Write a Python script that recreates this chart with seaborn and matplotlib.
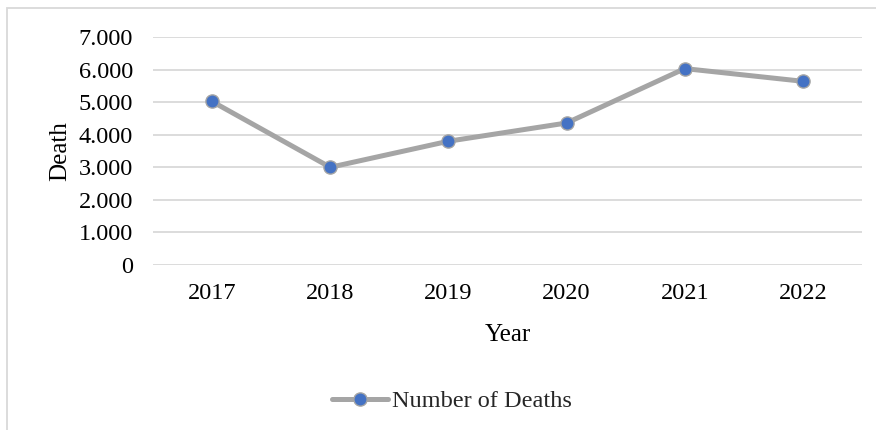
import matplotlib
matplotlib.use("Agg")
import matplotlib.pyplot as plt
from matplotlib.patches import Rectangle
from matplotlib.ticker import FuncFormatter
import seaborn as sns
import pandas as pd

years = ["2017", "2018", "2019", "2020", "2021", "2022"]
deaths = [5020, 3000, 3800, 4360, 6030, 5640]
y_ticks = [0, 1000, 2000, 3000, 4000, 5000, 6000, 7000]

df = pd.DataFrame({"Year": years, "Number of Deaths": deaths})

sns.set_theme(style="white")
plt.rcParams["font.family"] = ["Liberation Serif", "DejaVu Serif"]
FS = 17.5

W, H = 876, 430
fig = plt.figure(figsize=(W / 100, H / 100), dpi=100)
fig.patch.set_facecolor("white")

# light chart frame (left and top edges visible)
frame_top = 1 - 8 / H
fig.patches.append(Rectangle((7 / W, -0.5), 2.0, 0.5 + frame_top,
                             transform=fig.transFigure, fill=False,
                             edgecolor="#D9D9D9", linewidth=1.3, zorder=0))

left, right = 153 / W, 862 / W
bottom, top = 1 - 265 / H, 1 - 37 / H
ax = fig.add_axes([left, bottom, right - left, top - bottom])
ax.set_facecolor("none")

sns.lineplot(data=df, x="Year", y="Number of Deaths", ax=ax,
             color="#A5A5A5", linewidth=3.6, marker="o", markersize=9.5,
             markerfacecolor="#4472C4", markeredgecolor="#A5A5A5",
             markeredgewidth=1.0, label="Number of Deaths", legend=False,
             zorder=3)

ax.set_xlim(-0.5, len(years) - 0.5)
ax.set_ylim(0, 7000)
ax.set_yticks(y_ticks)
ax.yaxis.set_major_formatter(FuncFormatter(lambda v, p: f"{int(v):,}".replace(",", ".")))
ax.grid(axis="y", color="#D9D9D9", linewidth=1.3)
ax.grid(axis="x", visible=False)
for s in ax.spines.values():
    s.set_visible(False)
ax.tick_params(axis="both", length=0, labelsize=FS, colors="black")
ax.tick_params(axis="y", pad=14.5)
ax.tick_params(axis="x", pad=13)

ax.set_ylabel("Death", fontsize=FS + 0.5, color="black")
ax.set_xlabel("Year", fontsize=FS + 0.5, color="black")
ax.yaxis.set_label_coords(-0.131, 0.5)
ax.xaxis.set_label_coords(0.5, -0.307)
ax.xaxis.label.set_va("center")
ax.yaxis.label.set_va("center")

handles, labels = ax.get_legend_handles_labels()
fig.legend(handles, labels, loc="center", bbox_to_anchor=(452 / W, 1 - 401 / H),
           frameon=False, fontsize=FS, handlelength=2.3, handletextpad=0.16,
           borderpad=0)

fig.savefig("out.png", dpi=100)
